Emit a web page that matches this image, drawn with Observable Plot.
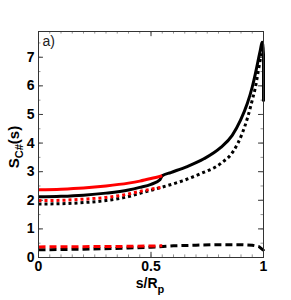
<!DOCTYPE html>
<html><head><meta charset="utf-8">
<script src="https://cdn.jsdelivr.net/npm/d3@7"></script>
<script src="https://cdn.jsdelivr.net/npm/@observablehq/plot@0.6"></script>
<style>body{margin:0;background:#fff}</style>
</head><body><div id="chart"></div>
<script>
// Black solid curve
const blackSolidX = [0, 0.1, 0.2, 0.3, 0.4, 0.45, 0.5, 0.54, 0.55, 0.588, 0.661, 0.735, 0.809, 0.861, 0.898, 0.928, 0.95, 0.964, 0.975, 0.986, 0.994, 1.0, 1.0];
const blackSolidY = [2.12, 2.14, 2.18, 2.25, 2.36, 2.45, 2.56, 2.72, 2.86, 2.97, 3.18, 3.45, 3.84, 4.27, 4.8, 5.38, 5.96, 6.43, 6.84, 7.25, 7.52, 7.1, 5.45];
// Red solid curve
const redSolidX = [0, 0.1, 0.2, 0.3, 0.4, 0.45, 0.5, 0.55];
const redSolidY = [2.37, 2.39, 2.43, 2.5, 2.6, 2.67, 2.76, 2.86];
// Black dotted curve
const blackDotX = [0, 0.1, 0.2, 0.3, 0.4, 0.454, 0.55, 0.64, 0.72, 0.809, 0.868, 0.905, 0.93, 0.95, 0.964, 0.979, 0.99, 1.0];
const blackDotY = [1.87, 1.88, 1.92, 1.99, 2.13, 2.25, 2.46, 2.68, 2.93, 3.28, 3.74, 4.33, 4.91, 5.5, 5.95, 6.62, 7.1, 7.45];
// Red dotted curve
const redDotX = [0, 0.1, 0.2, 0.3, 0.4, 0.45, 0.55];
const redDotY = [1.99, 2.0, 2.04, 2.1, 2.22, 2.31, 2.46];
// Black dashed curve
const blackDashX = [0, 0.2, 0.4, 0.5, 0.6, 0.7, 0.8, 0.9, 0.95, 0.98, 1.0, 1.0];
const blackDashY = [0.27, 0.29, 0.33, 0.36, 0.41, 0.43, 0.45, 0.45, 0.43, 0.38, 0.25, 0.12];
// Red dashed curve
const redDashX = [0, 0.2, 0.4, 0.55];
const redDashY = [0.37, 0.38, 0.39, 0.41];

const xTicks = [0, 0.5, 1];
const yTicks = [0, 1, 2, 3, 4, 5, 6, 7];
const xMinor = d3.range(0, 1.0001, 0.05).map(v => +v.toFixed(2));
const yMinor = d3.range(0, 7.9, 0.5).map(v => +v.toFixed(1));

const zip = (xs, ys) => xs.map((x, i) => ({x, y: ys[i]}));

const font = "'Liberation Sans', Arial, Helvetica, sans-serif";
const W = 291, H = 300;
const yMax = 7.9;

const lineOpts = (stroke, dash) => ({x: "x", y: "y", stroke, strokeWidth: 3, strokeDasharray: dash, strokeLinecap: "butt", curve: "monotone-x"});

const plot = Plot.plot({
  width: W, height: H,
  marginLeft: 38, marginRight: 28, marginTop: 31, marginBottom: 43,
  style: {fontFamily: font, background: "#fff", overflow: "visible"},
  x: {domain: [0, 1], axis: null},
  y: {domain: [0, yMax], axis: null},
  marks: [
    // inward ticks
    Plot.ruleY(yTicks, {y: d => d, x1: 0, x2: 0.022, stroke: "#333", strokeWidth: 1}),
    Plot.ruleY(yTicks, {y: d => d, x1: 0.978, x2: 1, stroke: "#333", strokeWidth: 1}),
    Plot.ruleY(yMinor, {y: d => d, x1: 0, x2: 0.011, stroke: "#666", strokeWidth: 0.7}),
    Plot.ruleY(yMinor, {y: d => d, x1: 0.989, x2: 1, stroke: "#666", strokeWidth: 0.7}),
    Plot.ruleX(xTicks, {x: d => d, y1: 0, y2: 0.18, stroke: "#333", strokeWidth: 1}),
    Plot.ruleX(xTicks, {x: d => d, y1: yMax - 0.18, y2: yMax, stroke: "#333", strokeWidth: 1}),
    Plot.ruleX(xMinor, {x: d => d, y1: 0, y2: 0.09, stroke: "#666", strokeWidth: 0.7}),
    Plot.ruleX(xMinor, {x: d => d, y1: yMax - 0.09, y2: yMax, stroke: "#666", strokeWidth: 0.7}),
    // curves
    Plot.line(zip(blackDotX, blackDotY), lineOpts("black", "3,3")),
    Plot.line(zip(redDotX, redDotY), lineOpts("red", "3,3")),
    Plot.line(zip(blackDashX, blackDashY), {...lineOpts("black", "7,4"), curve: "linear"}),
    Plot.line(zip(redDashX, redDashY), lineOpts("red", "7,4")),
    Plot.line(zip(blackSolidX, blackSolidY), lineOpts("black", null)),
    Plot.line(zip(redSolidX, redSolidY), lineOpts("red", null)),
    Plot.frame({stroke: "#333", strokeWidth: 1}),
    Plot.axisX(xTicks, {tickSize: 0, tickPadding: 4, fontSize: 14, fontWeight: "bold", fill: "black", label: null, tickFormat: d => String(d)}),
    Plot.axisY(yTicks, {tickSize: 0, tickPadding: 4, fontSize: 14, fontWeight: "bold", fill: "black", label: null, tickFormat: d => String(d)}),
    Plot.text(["a)"], {x: 0, y: yMax, text: d => d, dx: 4, dy: 10, textAnchor: "start", fontSize: 14, fill: "#222"})
  ]
});

const svg = d3.select(plot);
// y label
const yl = svg.append("text")
  .attr("transform", "translate(19,147) rotate(-90)")
  .attr("text-anchor", "middle")
  .attr("font-family", font)
  .attr("font-weight", "bold")
  .attr("font-size", 15)
  .attr("fill", "black");
yl.append("tspan").text("S");
yl.append("tspan").attr("font-size", 11).attr("dy", 4).text("C#");
yl.append("tspan").attr("dy", -4).text("(s)");
// x label
const xl = svg.append("text")
  .attr("x", 150).attr("y", 288)
  .attr("text-anchor", "middle")
  .attr("font-family", font)
  .attr("font-weight", "bold")
  .attr("font-size", 14)
  .attr("fill", "black");
xl.append("tspan").text("s/R");
xl.append("tspan").attr("font-size", 11).attr("dy", 5).text("p");

document.getElementById("chart").appendChild(plot);
</script>
</body></html>
